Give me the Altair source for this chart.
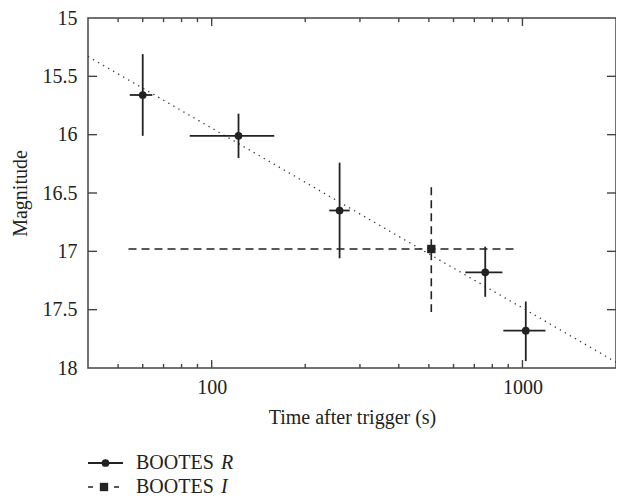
import altair as alt
import pandas as pd

# ---- data ----
r_time = [60, 122, 258, 759, 1025]
r_time_lo = [54.5, 85, 239, 655, 868]
r_time_hi = [64.4, 159, 278, 862, 1186]
r_mag = [15.66, 16.01, 16.65, 17.18, 17.68]
r_mag_lo = [15.31, 15.82, 16.24, 16.96, 17.43]
r_mag_hi = [16.01, 16.20, 17.06, 17.39, 17.94]

i_time = [509]
i_time_lo = [54]
i_time_hi = [961]
i_mag = [16.98]
i_mag_lo = [16.45]
i_mag_hi = [17.52]

fit_time = [40, 2000]
fit_mag = [15.33, 17.95]

x_major = [100, 1000]
x_minor = [50, 60, 70, 80, 90, 200, 300, 400, 500, 600, 700, 800, 900]
y_tick_vals = [15.5, 16, 16.5, 17, 17.5]
y_label_vals = [15, 15.5, 16, 16.5, 17, 17.5, 18]

legend_names = ["BOOTES", "BOOTES"]
legend_bands = ["R", "I"]

W, H = 528, 350
FONT = "Liberation Serif"
INK = "#222222"
FS = 20

r_df = pd.DataFrame({"t": r_time, "tlo": r_time_lo, "thi": r_time_hi,
                     "m": r_mag, "mlo": r_mag_lo, "mhi": r_mag_hi})
i_df = pd.DataFrame({"t": i_time, "tlo": i_time_lo, "thi": i_time_hi,
                     "m": i_mag, "mlo": i_mag_lo, "mhi": i_mag_hi})
fit_df = pd.DataFrame({"t": fit_time, "m": fit_mag})
xmaj_df = pd.DataFrame({"t": x_major})
xmin_df = pd.DataFrame({"t": x_minor})
ytk_df = pd.DataFrame({"m": y_tick_vals})

xscale = alt.Scale(type="log", domain=[40, 2000], nice=False)
yscale = alt.Scale(domain=[15, 18], reverse=True, nice=False, zero=False)
xaxis = alt.Axis(values=x_major, format="d", tickSize=0, domain=False, grid=False,
                 labelPadding=9, title="Time after trigger (s)", titlePadding=10,
                 labelFont=FONT, titleFont=FONT, labelFontSize=FS, titleFontSize=FS,
                 labelColor=INK, titleColor=INK, titleFontWeight="normal")
yaxis = alt.Axis(values=y_label_vals, format="~g", tickSize=0, domain=False, grid=False,
                 labelPadding=11, title="Magnitude", titlePadding=12,
                 labelFont=FONT, titleFont=FONT, labelFontSize=FS, titleFontSize=FS,
                 labelColor=INK, titleColor=INK, titleFontWeight="normal",
                 labelFlush=False, labelOverlap=False)


def X(f="t"):
    return alt.X(f, type="quantitative", scale=xscale, axis=xaxis)


def Y(f="m"):
    return alt.Y(f, type="quantitative", scale=yscale, axis=yaxis)


fit = alt.Chart(fit_df).mark_line(color="#333333", strokeWidth=1.3,
                                  strokeDash=[1.3, 4.5], clip=True).encode(x=X(), y=Y())

r_h = alt.Chart(r_df).mark_rule(color=INK, strokeWidth=1.8).encode(x=X("tlo"), x2="thi", y=Y())
r_v = alt.Chart(r_df).mark_rule(color=INK, strokeWidth=1.8).encode(x=X(), y=Y("mlo"), y2="mhi")
r_p = alt.Chart(r_df).mark_point(shape="circle", filled=True, size=60, color=INK,
                                 opacity=1).encode(x=X(), y=Y())

i_h = alt.Chart(i_df).mark_rule(color=INK, strokeWidth=1.6, strokeDash=[8, 5]).encode(
    x=X("tlo"), x2="thi", y=Y())
i_v = alt.Chart(i_df).mark_rule(color=INK, strokeWidth=1.6, strokeDash=[8, 5]).encode(
    x=X(), y=Y("mlo"), y2="mhi")
i_p = alt.Chart(i_df).mark_point(shape="square", filled=True, size=70, color=INK,
                                 opacity=1).encode(x=X(), y=Y())

TK = dict(color="#444444", strokeWidth=1.4)
xt_top_maj = alt.Chart(xmaj_df).mark_rule(**TK).encode(x=X(), y=alt.value(0), y2=alt.value(8))
xt_bot_maj = alt.Chart(xmaj_df).mark_rule(**TK).encode(x=X(), y=alt.value(H), y2=alt.value(H - 8))
xt_top_min = alt.Chart(xmin_df).mark_rule(**TK).encode(x=X(), y=alt.value(0), y2=alt.value(4))
xt_bot_min = alt.Chart(xmin_df).mark_rule(**TK).encode(x=X(), y=alt.value(H), y2=alt.value(H - 4))
yt_left = alt.Chart(ytk_df).mark_rule(**TK).encode(y=Y(), x=alt.value(0), x2=alt.value(9))
yt_right = alt.Chart(ytk_df).mark_rule(**TK).encode(y=Y(), x=alt.value(W), x2=alt.value(W - 9))

# ---- manual legend below the plot ----
leg_df = pd.DataFrame({"name": legend_names, "band": legend_bands})
LY1, LY2 = 445, 469
leg_r_line = alt.Chart(leg_df.iloc[[0]]).mark_rule(color=INK, strokeWidth=1.8).encode(
    x=alt.value(0), x2=alt.value(35), y=alt.value(LY1))
leg_r_pt = alt.Chart(leg_df.iloc[[0]]).mark_point(shape="circle", filled=True, size=60,
                                                  color=INK, opacity=1).encode(
    x=alt.value(17.5), y=alt.value(LY1))
leg_i_line = alt.Chart(leg_df.iloc[[1]]).mark_rule(color=INK, strokeWidth=1.6,
                                                   strokeDash=[5, 21]).encode(
    x=alt.value(0), x2=alt.value(32), y=alt.value(LY2))
leg_i_pt = alt.Chart(leg_df.iloc[[1]]).mark_point(shape="square", filled=True, size=70,
                                                  color=INK, opacity=1).encode(
    x=alt.value(16), y=alt.value(LY2))
TXT = dict(font=FONT, fontSize=FS, color=INK, align="left", baseline="middle")
leg_t1 = alt.Chart(leg_df.iloc[[0]]).mark_text(**TXT).encode(
    x=alt.value(48), y=alt.value(LY1), text="name:N")
leg_b1 = alt.Chart(leg_df.iloc[[0]]).mark_text(fontStyle="italic", **TXT).encode(
    x=alt.value(133), y=alt.value(LY1), text="band:N")
leg_t2 = alt.Chart(leg_df.iloc[[1]]).mark_text(**TXT).encode(
    x=alt.value(48), y=alt.value(LY2), text="name:N")
leg_b2 = alt.Chart(leg_df.iloc[[1]]).mark_text(fontStyle="italic", **TXT).encode(
    x=alt.value(133), y=alt.value(LY2), text="band:N")

chart = alt.layer(
    fit, r_h, r_v, r_p, i_h, i_v, i_p,
    xt_top_maj, xt_bot_maj, xt_top_min, xt_bot_min, yt_left, yt_right,
    leg_r_line, leg_r_pt, leg_i_line, leg_i_pt, leg_t1, leg_b1, leg_t2, leg_b2,
).properties(
    width=W, height=H,
    autosize=alt.AutoSizeParams(type="none"),
    padding={"left": 80, "top": 10, "right": 0, "bottom": 132},
    background="white",
).configure_view(
    stroke="#444444", strokeWidth=1.5
)

chart.save("out.html", embed_options={"renderer": "svg", "actions": False})
